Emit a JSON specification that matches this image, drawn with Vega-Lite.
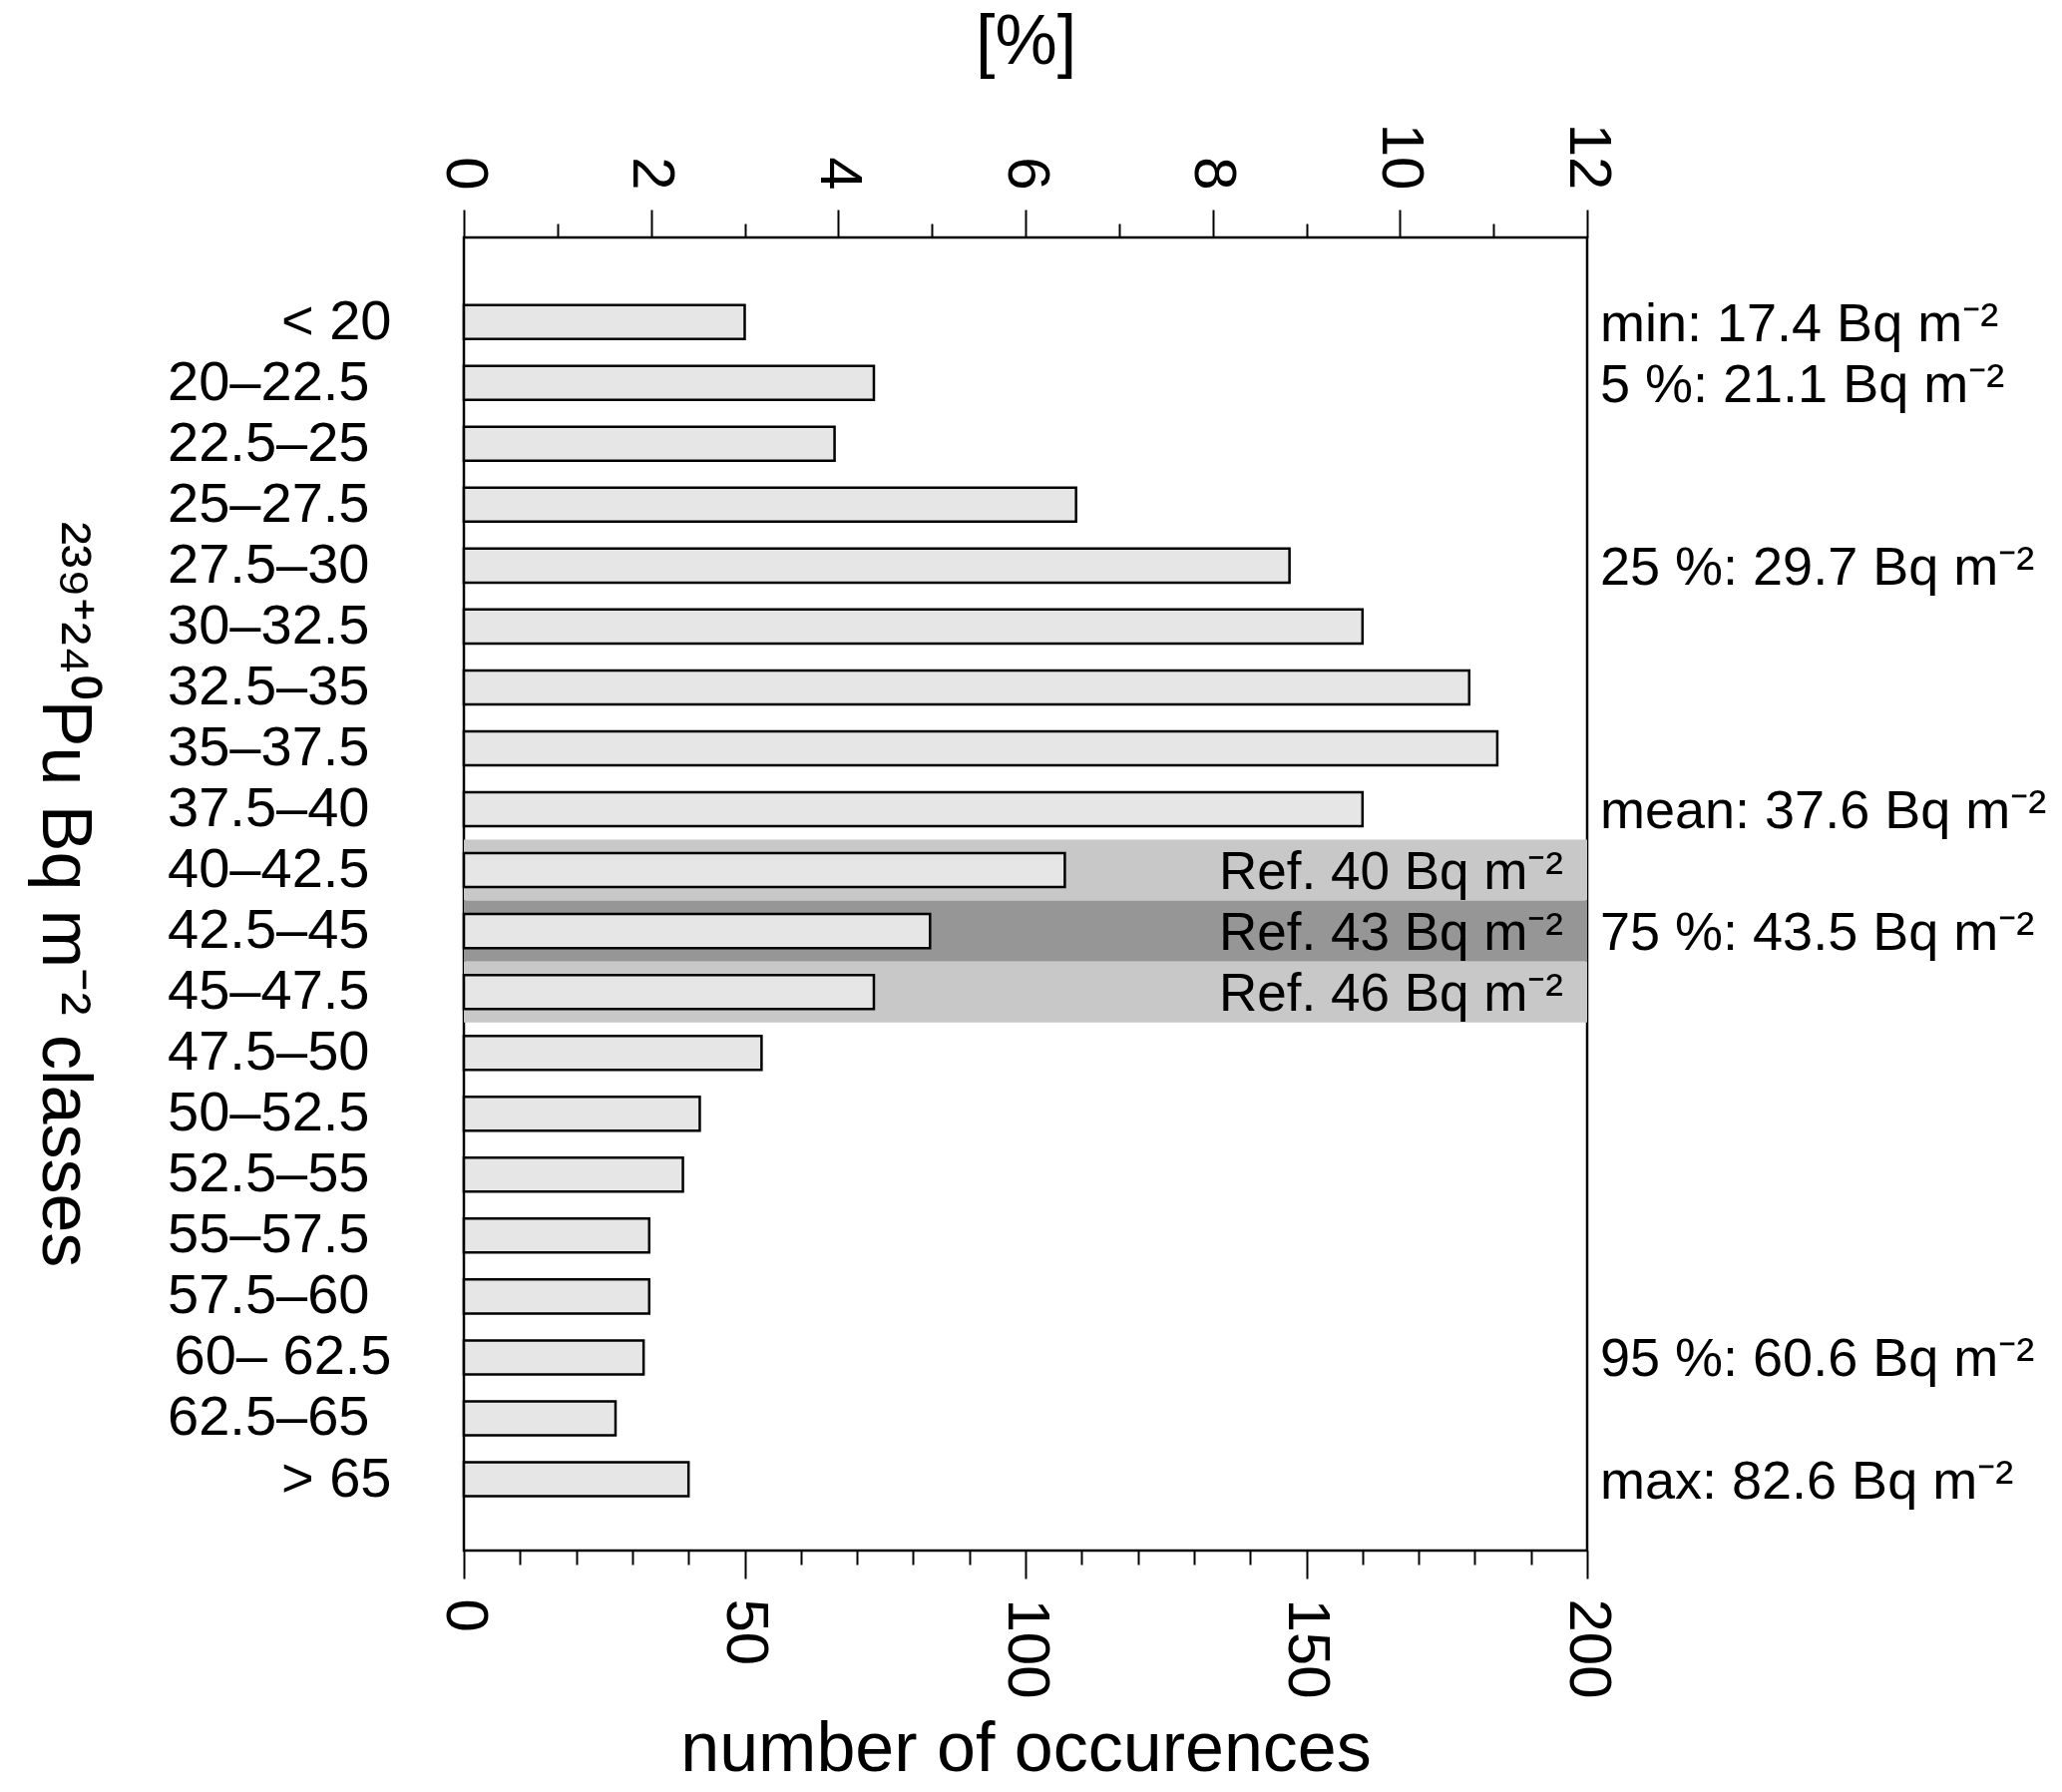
{
  "$schema": "https://vega.github.io/schema/vega-lite/v6.json",
  "width": 1126,
  "height": 1316,
  "autosize": {"type": "none"},
  "padding": {"left": 465, "top": 238, "right": 476, "bottom": 242},
  "background": "white",
  "config": {
    "font": "Liberation Sans",
    "view": {"stroke": "black", "strokeWidth": 2.5},
    "axis": {
      "domain": false,
      "grid": false,
      "labelColor": "black",
      "titleColor": "black",
      "tickColor": "black",
      "tickWidth": 2,
      "labelLimit": 0,
      "titleFontWeight": "normal",
      "labelFont": "Liberation Sans",
      "titleFont": "Liberation Sans"
    }
  },
  "datasets": {
    "classes": [
      {"class": "< 20", "count": 50},
      {"class": "20–22.5", "count": 73},
      {"class": "22.5–25", "count": 66},
      {"class": "25–27.5", "count": 109},
      {"class": "27.5–30", "count": 147},
      {"class": "30–32.5", "count": 160},
      {"class": "32.5–35", "count": 179},
      {"class": "35–37.5", "count": 184},
      {"class": "37.5–40", "count": 160},
      {"class": "40–42.5", "count": 107},
      {"class": "42.5–45", "count": 83},
      {"class": "45–47.5", "count": 73},
      {"class": "47.5–50", "count": 53},
      {"class": "50–52.5", "count": 42},
      {"class": "52.5–55", "count": 39},
      {"class": "55–57.5", "count": 33},
      {"class": "57.5–60", "count": 33},
      {"class": "60– 62.5", "count": 32},
      {"class": "62.5–65", "count": 27},
      {"class": "> 65", "count": 40}
    ],
    "refs": [
      {"class": "40–42.5", "ref": 40, "label": "Ref. 40 Bq m⁻²"},
      {"class": "42.5–45", "ref": 43, "label": "Ref. 43 Bq m⁻²"},
      {"class": "45–47.5", "ref": 46, "label": "Ref. 46 Bq m⁻²"}
    ],
    "stats": [
      {"class": "< 20", "stat": "min: 17.4 Bq m⁻²"},
      {"class": "20–22.5", "stat": "5 %: 21.1 Bq m⁻²"},
      {"class": "27.5–30", "stat": "25 %: 29.7 Bq m⁻²"},
      {"class": "37.5–40", "stat": "mean: 37.6 Bq m⁻²"},
      {"class": "42.5–45", "stat": "75 %: 43.5 Bq m⁻²"},
      {"class": "60– 62.5", "stat": "95 %: 60.6 Bq m⁻²"},
      {"class": "> 65", "stat": "max: 82.6 Bq m⁻²"}
    ]
  },
  "encoding": {
    "y": {
      "field": "class",
      "type": "nominal",
      "sort": null,
      "scale": {
        "domain": ["< 20", "20–22.5", "22.5–25", "25–27.5", "27.5–30", "30–32.5", "32.5–35", "35–37.5", "37.5–40", "40–42.5", "42.5–45", "45–47.5", "47.5–50", "50–52.5", "52.5–55", "55–57.5", "57.5–60", "60– 62.5", "62.5–65", "> 65"],
        "paddingInner": 0.442,
        "paddingOuter": 1.026,
        "align": 0.554
      },
      "axis": {
        "orient": "left",
        "ticks": false,
        "labelFontSize": 56,
        "labelLimit": 0,
        "labelPadding": {"condition": {"test": "datum.value == '< 20' || datum.value == '> 65' || datum.value == '60– 62.5'", "value": 73}, "value": 95},
        "title": "²³⁹⁺²⁴⁰Pu Bq m⁻² classes",
        "titleFontSize": 70,
        "titleAngle": 90,
        "titleBaseline": "top",
        "titlePadding": 168
      }
    }
  },
  "layer": [
    {
      "data": {"name": "refs"},
      "mark": {"type": "bar", "height": {"band": 1.792}},
      "encoding": {
        "x": {"datum": 0, "type": "quantitative", "scale": {"domain": [0, 200]}, "axis": null},
        "x2": {"datum": 200},
        "color": {"field": "ref", "type": "nominal", "scale": {"domain": [40, 43, 46], "range": ["#c8c8c8", "#969696", "#c8c8c8"]}, "legend": null}
      }
    },
    {
      "data": {"name": "classes"},
      "mark": {"type": "bar", "fill": "#e6e6e6", "stroke": "black", "strokeWidth": 2.5},
      "encoding": {
        "x": {
          "field": "count",
          "type": "quantitative",
          "scale": {"domain": [0, 200]},
          "axis": {
            "orient": "bottom",
            "values": [0, 50, 100, 150, 200],
            "tickSize": 28,
            "labelAngle": 90,
            "labelFontSize": 60,
            "labelPadding": 20,
            "title": "number of occurences",
            "titleFontSize": 70,
            "titlePadding": 17
          }
        }
      }
    },
    {
      "data": {"name": "classes"},
      "mark": {"type": "point", "opacity": 0},
      "encoding": {
        "x": {
          "field": "count",
          "type": "quantitative",
          "scale": {"domain": [0, 200]},
          "axis": {
            "orient": "bottom",
            "values": [10, 20, 30, 40, 60, 70, 80, 90, 110, 120, 130, 140, 160, 170, 180, 190],
            "tickSize": 14,
            "labels": false,
            "title": null
          }
        }
      }
    },
    {
      "data": {"name": "classes"},
      "mark": {"type": "point", "opacity": 0},
      "encoding": {
        "x": {
          "datum": 0,
          "type": "quantitative",
          "scale": {"domain": [0, 12]},
          "axis": {
            "orient": "top",
            "values": [0, 2, 4, 6, 8, 10, 12],
            "tickSize": 28,
            "labelAngle": 90,
            "labelFontSize": 60,
            "labelPadding": 20,
            "title": "[%]",
            "titleFontSize": 70,
            "titlePadding": 45
          }
        }
      }
    },
    {
      "data": {"name": "classes"},
      "mark": {"type": "point", "opacity": 0},
      "encoding": {
        "x": {
          "datum": 0,
          "type": "quantitative",
          "scale": {"domain": [0, 12]},
          "axis": {
            "orient": "top",
            "values": [1, 3, 5, 7, 9, 11],
            "tickSize": 14,
            "labels": false,
            "title": null
          }
        }
      }
    },
    {
      "data": {"name": "refs"},
      "mark": {"type": "text", "align": "right", "baseline": "middle", "dx": -24, "dy": 3, "fontSize": 53, "color": "black"},
      "encoding": {
        "x": {"datum": 200, "type": "quantitative", "scale": {"domain": [0, 200]}, "axis": null},
        "text": {"field": "label"}
      }
    },
    {
      "data": {"name": "stats"},
      "mark": {"type": "text", "align": "left", "baseline": "middle", "dx": 13, "dy": 3, "fontSize": 54, "color": "black"},
      "encoding": {
        "x": {"datum": 200, "type": "quantitative", "scale": {"domain": [0, 200]}, "axis": null},
        "text": {"field": "stat"}
      }
    }
  ],
  "resolve": {"scale": {"x": "independent"}, "axis": {"x": "independent"}}
}
